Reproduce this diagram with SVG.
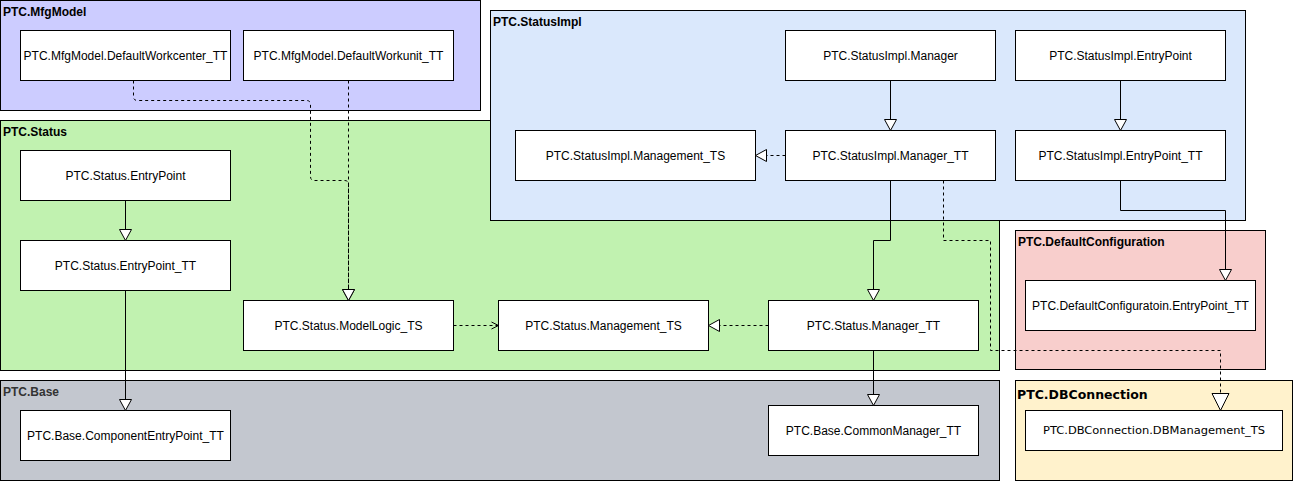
<svg xmlns="http://www.w3.org/2000/svg" width="1294" height="481" viewBox="0 0 1294 481">
<style>
.cont{stroke:#000;stroke-width:1}
.node{fill:#fff;stroke:#000;stroke-width:1}
.lbl{font-family:"Liberation Sans",Arial,sans-serif;font-size:12px;fill:#000;text-anchor:middle;dominant-baseline:central}
.clbl{font-family:"Liberation Sans",Arial,sans-serif;font-size:12px;font-weight:bold;fill:#000}
.solid{fill:none;stroke:#000;stroke-width:1}
.dash{fill:none;stroke:#000;stroke-width:1;stroke-dasharray:3 3}
</style>
<defs>
<marker id="tri" markerUnits="userSpaceOnUse" markerWidth="14" markerHeight="14" viewBox="-1 -7 14 14" refX="11" refY="0" orient="auto">
<path d="M0,-6 L11,0 L0,6 Z" fill="#fff" stroke="#000" stroke-width="1"/>
</marker>
<marker id="tribig" markerUnits="userSpaceOnUse" markerWidth="20" markerHeight="20" viewBox="-1 -10 20 20" refX="17" refY="0" orient="auto">
<path d="M0,-8.5 L17,0 L0,8.5 Z" fill="#fff" stroke="#000" stroke-width="1"/>
</marker>
<marker id="open" markerUnits="userSpaceOnUse" markerWidth="10" markerHeight="10" viewBox="-1 -5 10 10" refX="7" refY="0" orient="auto">
<path d="M0,-3.5 L7,0 L0,3.5" fill="none" stroke="#000" stroke-width="1"/>
</marker>
</defs>

<g id="containers">
<g id="c-mfgmodel"><rect class="cont" x="0.5" y="0.5" width="480" height="110" fill="#ccccff"/><text class="clbl" x="3" y="16">PTC.MfgModel</text></g>
<g id="c-status"><rect class="cont" x="0.5" y="120.5" width="999" height="250" fill="#c1f2b0"/><text class="clbl" x="3" y="136">PTC.Status</text></g>
<g id="c-statusimpl"><rect class="cont" x="490.5" y="10.5" width="755" height="210" fill="#dae8fc"/><text class="clbl" x="493" y="26">PTC.StatusImpl</text></g>
<g id="c-base"><rect class="cont" x="0.5" y="380.5" width="999" height="100" fill="#c3c7cf"/><text class="clbl" x="3" y="396" style="fill:#333">PTC.Base</text></g>
<g id="c-defaultconfig"><rect class="cont" x="1015.5" y="230.5" width="250" height="139" fill="#f8cecc"/><text class="clbl" x="1018" y="246">PTC.DefaultConfiguration</text></g>
<g id="c-dbconnection"><rect class="cont" x="1015.5" y="380.5" width="277" height="100" fill="#fff2cc"/><text class="clbl" x="1017" y="399" style="font-family:'DejaVu Sans',Verdana,sans-serif;font-size:12.5px">PTC.DBConnection</text></g>
</g>

<g id="n-workcenter"><rect class="node" x="20.5" y="30.5" width="210" height="50"/><text class="lbl" x="125.5" y="55.5">PTC.MfgModel.DefaultWorkcenter_TT</text></g>
<g id="n-workunit"><rect class="node" x="243.5" y="30.5" width="210" height="50"/><text class="lbl" x="348.5" y="55.5">PTC.MfgModel.DefaultWorkunit_TT</text></g>

<g id="n-si-management"><rect class="node" x="515.5" y="130.5" width="240" height="50"/><text class="lbl" x="635.5" y="155.5">PTC.StatusImpl.Management_TS</text></g>
<g id="n-si-manager"><rect class="node" x="785.5" y="30.5" width="210" height="50"/><text class="lbl" x="890.5" y="55.5">PTC.StatusImpl.Manager</text></g>
<g id="n-si-manager-tt"><rect class="node" x="785.5" y="130.5" width="210" height="50"/><text class="lbl" x="890.5" y="155.5">PTC.StatusImpl.Manager_TT</text></g>
<g id="n-si-entry"><rect class="node" x="1015.5" y="30.5" width="210" height="50"/><text class="lbl" x="1120.5" y="55.5">PTC.StatusImpl.EntryPoint</text></g>
<g id="n-si-entry-tt"><rect class="node" x="1015.5" y="130.5" width="210" height="50"/><text class="lbl" x="1120.5" y="155.5">PTC.StatusImpl.EntryPoint_TT</text></g>

<g id="n-s-entry"><rect class="node" x="20.5" y="150.5" width="210" height="50"/><text class="lbl" x="125.5" y="175.5">PTC.Status.EntryPoint</text></g>
<g id="n-s-entry-tt"><rect class="node" x="20.5" y="240.5" width="210" height="50"/><text class="lbl" x="125.5" y="265.5">PTC.Status.EntryPoint_TT</text></g>
<g id="n-s-modellogic"><rect class="node" x="243.5" y="300.5" width="210" height="50"/><text class="lbl" x="348.5" y="325.5">PTC.Status.ModelLogic_TS</text></g>
<g id="n-s-management"><rect class="node" x="498.5" y="300.5" width="210" height="50"/><text class="lbl" x="603.5" y="325.5">PTC.Status.Management_TS</text></g>
<g id="n-s-manager-tt"><rect class="node" x="768.5" y="300.5" width="210" height="50"/><text class="lbl" x="873.5" y="325.5">PTC.Status.Manager_TT</text></g>

<g id="n-b-component"><rect class="node" x="20.5" y="410.5" width="210" height="50"/><text class="lbl" x="125.5" y="435.5">PTC.Base.ComponentEntryPoint_TT</text></g>
<g id="n-b-common"><rect class="node" x="768.5" y="405.5" width="210" height="50"/><text class="lbl" x="873.5" y="430.5">PTC.Base.CommonManager_TT</text></g>

<g id="n-dc-entry"><rect class="node" x="1025.5" y="280.5" width="230" height="50"/><text class="lbl" x="1140.5" y="305.5">PTC.DefaultConfiguratoin.EntryPoint_TT</text></g>
<g id="n-db-management"><rect class="node" x="1025.5" y="410.5" width="257" height="40"/><text class="lbl" x="1154" y="430.5" style="font-family:'DejaVu Sans',Verdana,sans-serif;font-size:11px" textLength="222" lengthAdjust="spacingAndGlyphs">PTC.DBConnection.DBManagement_TS</text></g>

<g id="connectors">
<path class="dash" d="M133.5,80.5 L133.5,96.5 Q133.5,100.5 137.5,100.5 L306.5,100.5 Q310.5,100.5 310.5,104.5 L310.5,176.5 Q310.5,180.5 314.5,180.5 L344.5,180.5 Q348.5,180.5 348.5,184.5 L348.5,300.5" marker-end="url(#tri)"/>
<path class="dash" d="M348.5,80.5 L348.5,300.5" marker-end="url(#tri)"/>
<path class="solid" d="M890.5,80.5 L890.5,130.5" marker-end="url(#tri)"/>
<path class="solid" d="M1120.5,80.5 L1120.5,130.5" marker-end="url(#tri)"/>
<path class="dash" d="M785.5,155.5 L755.5,155.5" marker-end="url(#tri)"/>
<path class="solid" d="M890.5,180.5 L890.5,240.5 L873.5,240.5 L873.5,300.5" marker-end="url(#tri)"/>
<path class="dash" d="M943.5,180.5 L943.5,240.5 L990.5,240.5 L990.5,350.5 L1220.5,350.5 L1220.5,410.5" marker-end="url(#tribig)"/>
<path class="solid" d="M1120.5,180.5 L1120.5,210.5 L1225.5,210.5 L1225.5,280.5" marker-end="url(#tri)"/>
<path class="solid" d="M125.5,200.5 L125.5,240.5" marker-end="url(#tri)"/>
<path class="solid" d="M125.5,290.5 L125.5,410.5" marker-end="url(#tri)"/>
<path class="dash" d="M453.5,325.5 L498.5,325.5" marker-end="url(#open)"/>
<path class="dash" d="M768.5,325.5 L708.5,325.5" marker-end="url(#tri)"/>
<path class="solid" d="M873.5,350.5 L873.5,405.5" marker-end="url(#tri)"/>
</g>
</svg>
